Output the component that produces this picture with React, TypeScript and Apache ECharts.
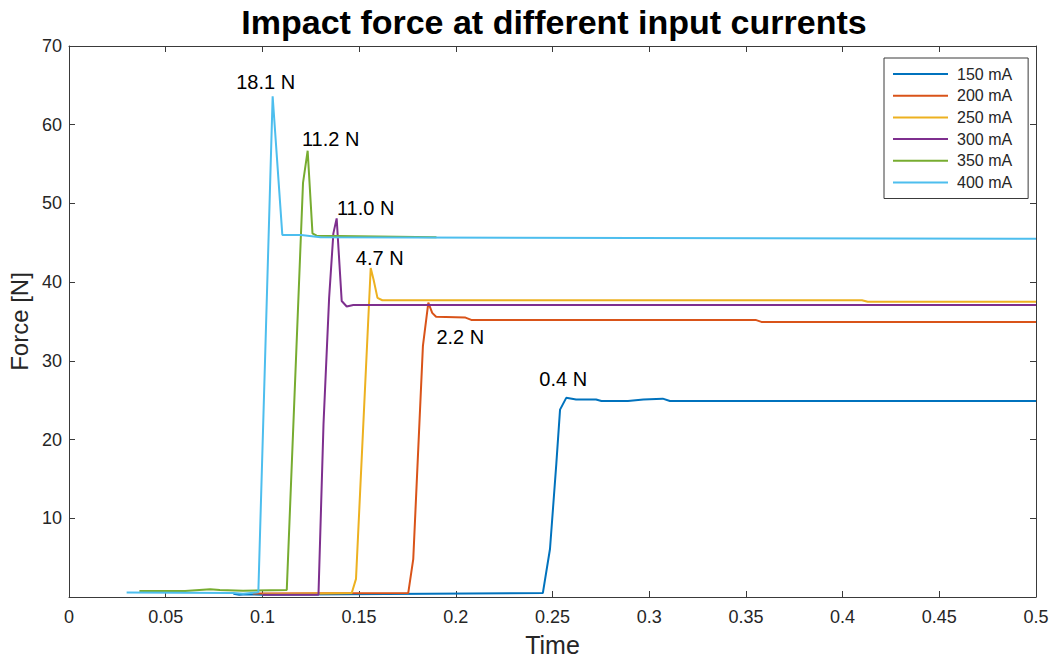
import React, { useEffect, useRef } from "react";
import * as echarts from "echarts";

const seriesNames = ["150 mA", "200 mA", "250 mA", "300 mA", "350 mA", "400 mA"];
const colors = ["#0072BD", "#D95319", "#EDB120", "#7E2F8E", "#77AC30", "#4DBEEE"];

const t150 = [0.085, 0.088, 0.092, 0.1, 0.245, 0.2487, 0.252, 0.2539, 0.2571, 0.2622, 0.2725, 0.2753, 0.289, 0.297, 0.307, 0.3107, 0.5];
const f150 = [0.4, 0.3, 0.35, 0.3, 0.5, 6.1, 17, 23.8, 25.3, 25.1, 25.1, 24.9, 24.9, 25.1, 25.2, 24.9, 24.9];

const t200 = [0.095, 0.1754, 0.178, 0.183, 0.1858, 0.1878, 0.1898, 0.205, 0.208, 0.355, 0.358, 0.5];
const f200 = [0.45, 0.5, 4.8, 31.9, 37.4, 36.1, 35.6, 35.5, 35.2, 35.2, 34.95, 34.95];

const t250 = [0.1, 0.1462, 0.1484, 0.156, 0.1575, 0.1595, 0.162, 0.41, 0.413, 0.5];
const f250 = [0.35, 0.5, 2.3, 41.8, 40.3, 38.0, 37.7, 37.7, 37.5, 37.5];

const t300 = [0.1, 0.129, 0.1316, 0.1345, 0.1367, 0.1384, 0.141, 0.1436, 0.147, 0.5];
const f300 = [0.3, 0.3, 22, 38, 46.2, 48.1, 37.6, 36.9, 37.1, 37.1];

const t350 = [0.0364, 0.06, 0.073, 0.078, 0.09, 0.1126, 0.121, 0.1234, 0.1259, 0.128, 0.19];
const f350 = [0.75, 0.75, 1.0, 0.9, 0.8, 0.9, 52.6, 56.7, 46.2, 45.9, 45.7];

const t400 = [0.0298, 0.085, 0.09, 0.0979, 0.1053, 0.1103, 0.12, 0.13, 0.5];
const f400 = [0.57, 0.5, 0.4, 0.6, 63.6, 46.0, 46.0, 45.7, 45.5];

const times = [t150, t200, t250, t300, t350, t400];
const forces = [f150, f200, f250, f300, f350, f400];

const peakLabels = ["0.4 N", "2.2 N", "4.7 N", "11.0 N", "11.2 N", "18.1 N"];
const peakOffsets = [[-3, -19], [32, 34], [9, -10], [29, -10], [23, -12], [-7, -14]];

const xTicks = [0, 0.05, 0.1, 0.15, 0.2, 0.25, 0.3, 0.35, 0.4, 0.45, 0.5];
const yTicks = [0, 10, 20, 30, 40, 50, 60, 70];

const FONT = "'Liberation Sans', Arial, Helvetica, sans-serif";
const AXIS_COLOR = "#3a3a3a";
const TEXT_COLOR = "#262626";

const axisLine = () => ({ show: true, onZero: false, lineStyle: { color: AXIS_COLOR, width: 1 } });
const axisTick = () => ({ show: true, inside: true, length: 6, lineStyle: { color: AXIS_COLOR, width: 1 } });

export default function App() {
  const ref = useRef<HTMLDivElement>(null);

  useEffect(() => {
    if (!ref.current) return;
    const chart = echarts.init(ref.current, undefined, { renderer: "svg" });

    const series = seriesNames.map((name, i) => {
      const t = times[i];
      const f = forces[i];
      let pk = 0;
      f.forEach((v, j) => {
        if (v > f[pk]) pk = j;
      });
      return {
        name,
        type: "line",
        xAxisIndex: 0,
        yAxisIndex: 0,
        data: t.map((x, j) => [x, f[j]]),
        showSymbol: false,
        symbol: "none",
        lineStyle: { color: colors[i], width: 2 },
        itemStyle: { color: colors[i] },
        z: 2 + i,
        markPoint: {
          symbol: "circle",
          symbolSize: 1,
          itemStyle: { color: "rgba(0,0,0,0)" },
          label: {
            show: true,
            position: "inside",
            offset: peakOffsets[i],
            formatter: peakLabels[i],
            color: "#000",
            fontSize: 20,
            fontFamily: FONT,
          },
          data: [{ coord: [t[pk], f[pk]] }],
        },
      };
    });

    chart.setOption({
      animation: false,
      backgroundColor: "#ffffff",
      title: {
        text: "Impact force at different input currents",
        left: 549,
        textAlign: "center",
        top: 0,
        textStyle: { fontSize: 34, fontWeight: "bold", color: "#000", fontFamily: FONT },
      },
      legend: {
        data: seriesNames,
        orient: "vertical",
        left: 884,
        top: 58,
        padding: [8, 16, 8, 9],
        itemWidth: 55,
        itemHeight: 14,
        itemGap: 5.7,
        backgroundColor: "#fff",
        borderColor: AXIS_COLOR,
        borderWidth: 1,
        borderRadius: 0,
        icon: "path://M0,0 L55,0 L55,2 L0,2 Z",
        textStyle: { fontSize: 16, color: TEXT_COLOR, fontFamily: FONT, padding: [0, 0, 0, 4] },
      },
      grid: { left: 69, right: 16, top: 46, bottom: 61, containLabel: false, outerBoundsMode: "none" },
      xAxis: [
        {
          type: "value",
          min: xTicks[0],
          max: xTicks[xTicks.length - 1],
          interval: 0.05,
          position: "bottom",
          name: "Time",
          nameLocation: "middle",
          nameGap: 35,
          nameTextStyle: { fontSize: 25, color: TEXT_COLOR, fontFamily: FONT },
          axisLine: axisLine(),
          axisTick: axisTick(),
          splitLine: { show: false },
          axisLabel: {
            fontSize: 18,
            color: TEXT_COLOR,
            fontFamily: FONT,
            margin: 11,
            formatter: (v: number) => String(parseFloat(v.toFixed(2))),
          },
        },
        {
          type: "value",
          min: xTicks[0],
          max: xTicks[xTicks.length - 1],
          interval: 0.05,
          position: "top",
          axisLine: axisLine(),
          axisTick: axisTick(),
          axisLabel: { show: false },
          splitLine: { show: false },
        },
      ],
      yAxis: [
        {
          type: "value",
          min: yTicks[0],
          max: yTicks[yTicks.length - 1],
          interval: 10,
          position: "left",
          name: "Force [N]",
          nameLocation: "middle",
          nameGap: 31,
          nameTextStyle: { fontSize: 24, color: TEXT_COLOR, fontFamily: FONT },
          axisLine: axisLine(),
          axisTick: axisTick(),
          splitLine: { show: false },
          axisLabel: {
            fontSize: 18,
            color: TEXT_COLOR,
            fontFamily: FONT,
            margin: 7,
            formatter: (v: number) => (v === 0 ? "" : String(v)),
          },
        },
        {
          type: "value",
          min: yTicks[0],
          max: yTicks[yTicks.length - 1],
          interval: 10,
          position: "right",
          axisLine: axisLine(),
          axisTick: axisTick(),
          axisLabel: { show: false },
          splitLine: { show: false },
        },
      ],
      series,
    });

    return () => chart.dispose();
  }, []);

  return (
    <div
      ref={ref}
      style={{ position: "fixed", left: 0, top: 0, width: 1052, height: 658, background: "#fff" }}
    />
  );
}
